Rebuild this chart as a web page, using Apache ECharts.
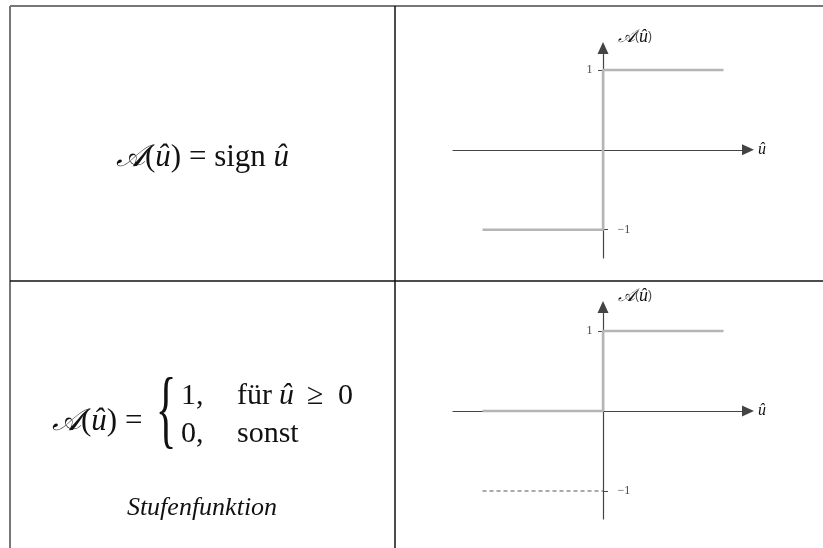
<!DOCTYPE html>
<html>
<head>
    <meta charset="utf-8">
    <script src="https://cdn.jsdelivr.net/npm/echarts@6.0.0/dist/echarts.min.js"></script>
    <style>
        html, body { margin: 0; padding: 0; background: #fff; }
        #main { width: 823px; height: 548px; }
    </style>
</head>
<body>
<div id="main"></div>
<script type="text/javascript">
    // Kurvenpunkte (u, A(u))
    var stepX = [-1, 0, 0, 1];
    var signY = [-1, -1, 1, 1];      // sign u
    var stufeY = [0, 0, 1, 1];       // Stufenfunktion
    var refX = [-1, 0];              // gestrichelte Hilfslinie bei -1
    var refY = [-1, -1];
    var tickLeft = [1];              // Beschriftung links der Achse
    var tickRight = [-1];            // Beschriftung rechts der Achse
    var yName = '{s|𝒜}({i|û})';
    var xName = 'û';

    var serif = 'Liberation Serif, Times New Roman, serif';
    var axisColor = '#444';
    var curveColor = '#b5b5b5';

    function zip(xs, ys) {
        return xs.map(function (x, i) { return [x, ys[i]]; });
    }
    function fmt(v) {
        return v < 0 ? '\u2212' + Math.abs(v) : String(v);
    }

    var nameRich = {
        s: { fontFamily: serif, fontStyle: 'italic', fontSize: 18, color: '#111' },
        i: { fontFamily: serif, fontStyle: 'italic', fontSize: 18, color: '#111' }
    };

    // zwei Koordinatensysteme, gleiche Skalierung
    var grids = [
        { left: 453, width: 295, top: 48, height: 210, yMin: -1.355, yMax: 1.276 },
        { left: 453, width: 295, top: 307, height: 212, yMin: -1.35, yMax: 1.3 }
    ];

    var xAxes = [], yAxes = [];
    grids.forEach(function (g, gi) {
        xAxes.push({
            type: 'value', gridIndex: gi, min: -1.245, max: 1.203,
            splitLine: { show: false }, axisTick: { show: false }, axisLabel: { show: false },
            axisLine: { onZero: true, symbol: ['none', 'triangle'], symbolSize: [11, 12],
                lineStyle: { color: axisColor, width: 1.2 } },
            name: xName, nameLocation: 'end', nameGap: 10,
            nameTextStyle: { fontFamily: serif, fontStyle: 'italic', fontSize: 16, color: '#111', padding: [10, 0, 0, 0] }
        });
        yAxes.push({
            type: 'value', gridIndex: gi, position: 'left', min: g.yMin, max: g.yMax,
            splitLine: { show: false },
            axisLine: { onZero: true, symbol: ['none', 'triangle'], symbolSize: [11, 12],
                lineStyle: { color: axisColor, width: 1.2 } },
            axisTick: { show: true, customValues: tickLeft, length: 5, lineStyle: { color: axisColor } },
            axisLabel: { show: false },
            name: yName, nameLocation: 'end', nameGap: 2,
            nameTextStyle: { align: 'left', padding: [0, 0, 0, 15], rich: nameRich }
        });
        yAxes.push({
            type: 'value', gridIndex: gi, position: 'right', min: g.yMin, max: g.yMax,
            splitLine: { show: false },
            axisLine: { show: false, onZero: true, onZeroAxisIndex: gi },
            axisTick: { show: true, customValues: tickRight, length: 5, lineStyle: { color: axisColor } },
            axisLabel: { show: false }
        });
    });

    // Achsenbeschriftung 1 / -1 direkt an der senkrechten Achse
    function tickLabelSeries(gi) {
        var pts = tickLeft.map(function (v) {
            return { value: [0, v], label: { position: 'left', distance: 10 } };
        }).concat(tickRight.map(function (v) {
            return { value: [0, v], label: { position: 'right', distance: 14 } };
        }));
        return {
            type: 'scatter', xAxisIndex: gi, yAxisIndex: gi * 2, data: pts, symbolSize: 1, z: 4,
            itemStyle: { color: 'rgba(0,0,0,0)' }, silent: true,
            label: { show: true, formatter: function (p) { return fmt(p.value[1]); },
                fontFamily: serif, fontSize: 12, color: '#111' }
        };
    }

    // Tabelle + Formeln
    var tx = { fontFamily: serif, fontSize: 30, fill: '#111' };
    var rich31 = {
        s: { fontFamily: serif, fontStyle: 'italic', fontSize: 31, color: '#111' },
        i: { fontFamily: serif, fontStyle: 'italic', fontSize: 31, color: '#111' },
        r: { fontFamily: serif, fontSize: 31, color: '#111' }
    };
    function line(x1, y1, x2, y2, c, w) {
        return { type: 'line', shape: { x1: x1, y1: y1, x2: x2, y2: y2 }, style: { stroke: c, lineWidth: w }, z: 10 };
    }
    function text(x, y, t, extra) {
        var st = Object.assign({ text: t, align: 'left', verticalAlign: 'middle' }, tx, extra || {});
        return { type: 'text', x: x, y: y, style: st, z: 10 };
    }

    var graphics = [
        line(10, 6, 823, 6, '#777', 2),
        line(10, 6, 10, 548, '#777', 2),
        line(395, 6, 395, 548, '#111', 1.5),
        line(10, 281, 823, 281, '#111', 1.5),
        text(116, 158, '{s|𝒜}{r|(}{i|û}{r|) = sign }{i|û}', { rich: rich31 }),
        text(52, 422, '{s|𝒜}{r|(}{i|û}{r|) =}', { rich: rich31 }),
        { type: 'text', x: 166, y: 414, scaleX: 0.5, z: 10,
          style: { text: '{', fontFamily: serif, fontSize: 86, fill: '#111', align: 'center', verticalAlign: 'middle' } },
        text(181, 396, '1,'),
        text(237, 396, 'für'),
        text(279, 396, 'û', { fontStyle: 'italic' }),
        text(307, 396, '≥'),
        text(338, 396, '0'),
        text(181, 434, '0,'),
        text(237, 434, 'sonst'),
        text(202, 508, 'Stufenfunktion', { align: 'center', fontStyle: 'italic', fontSize: 26 })
    ];

    var option = {
        animation: false,
        backgroundColor: '#fff',
        grid: grids.map(function (g) {
            return { left: g.left, width: g.width, top: g.top, height: g.height, containLabel: false };
        }),
        xAxis: xAxes,
        yAxis: yAxes,
        series: [
            { type: 'line', xAxisIndex: 0, yAxisIndex: 0, data: zip(stepX, signY), symbol: 'none', z: 3,
              lineStyle: { color: curveColor, width: 2.5 } },
            { type: 'line', xAxisIndex: 1, yAxisIndex: 2, data: zip(stepX, stufeY), symbol: 'none', z: 3,
              lineStyle: { color: curveColor, width: 2.5 } },
            { type: 'line', xAxisIndex: 1, yAxisIndex: 2, data: zip(refX, refY), symbol: 'none', z: 3,
              lineStyle: { color: '#555', width: 1, type: [4, 3] } },
            tickLabelSeries(0),
            tickLabelSeries(1)
        ],
        graphic: { elements: graphics }
    };

    var chart = echarts.init(document.getElementById('main'));
    chart.setOption(option);
</script>
</body>
</html>
